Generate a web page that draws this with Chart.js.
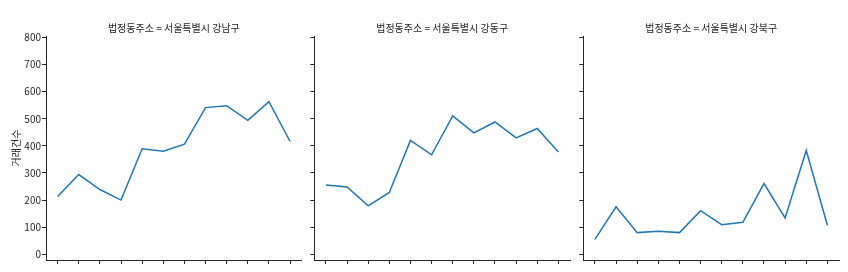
<!DOCTYPE html>
<html>
<head>
<meta charset="utf-8">
<script src="https://cdn.jsdelivr.net/npm/chart.js@4.4.1/dist/chart.umd.min.js"></script>
<style>
  html, body { margin: 0; padding: 0; background: #fff; }
  #wrap { position: relative; width: 848px; height: 272px; }
  #wrap canvas { position: absolute; left: 0; top: 0; }
</style>
</head>
<body>
<div id="wrap">
  <canvas id="c0" width="848" height="272"></canvas>
  <canvas id="c1" width="848" height="272"></canvas>
  <canvas id="c2" width="848" height="272"></canvas>
</div>
<script>
// facet data: monthly transaction counts per district
const months = [1, 2, 3, 4, 5, 6, 7, 8, 9, 10, 11, 12];
const districts = ['서울특별시 강남구', '서울특별시 강동구', '서울특별시 강북구'];
const gangnam = [213, 294, 239, 200, 389, 380, 406, 541, 548, 494, 563, 416];
const gangdong = [256, 248, 179, 228, 420, 367, 510, 448, 488, 429, 464, 377];
const gangbuk = [55, 175, 80, 85, 80, 161, 109, 118, 261, 134, 383, 107];
const yTicks = [0, 100, 200, 300, 400, 500, 600, 700, 800];
const facetKey = '법정동주소';
const yLabel = '거래건수';

const TEXT = '#262626';
const FONT = "'Noto Sans CJK KR', 'Noto Sans', sans-serif";
const W = 848;
// plot area edges of each facet, in page pixels
const areas = [
  { left: 46, right: 301.7 },
  { left: 314.3, right: 570 },
  { left: 583.3, right: 839 },
];

function makeChart(id, values, district, area, first) {
  const tickLen = 4;
  const yWidth = first ? area.left : tickLen;
  return new Chart(document.getElementById(id), {
    type: 'line',
    data: {
      datasets: [{
        data: values.map((v, i) => ({ x: i, y: v })),
        borderColor: '#1f77b4',
        borderWidth: 1.5,
        pointRadius: 0,
        tension: 0,
        fill: false,
      }],
    },
    options: {
      responsive: false,
      animation: false,
      devicePixelRatio: 1,
      events: [],
      layout: {
        padding: { left: area.left - yWidth, right: W - area.right, top: 0, bottom: 0 },
      },
      plugins: {
        legend: { display: false },
        tooltip: { enabled: false },
        title: {
          display: true,
          text: `${facetKey} = ${district}`,
          color: TEXT,
          fullSize: false,
          font: { family: FONT, size: 10, weight: 'normal' },
          padding: { top: 22, bottom: 2 },
        },
      },
      scales: {
        x: {
          type: 'linear',
          min: -0.55,
          max: months.length - 1 + 0.55,
          afterBuildTicks: s => { s.ticks = months.map((m, i) => ({ value: i })); },
          afterFit: s => { s.height = 12; },
          ticks: { display: false },
          grid: { drawOnChartArea: false, drawTicks: true, tickLength: tickLen, color: TEXT, tickWidth: 1 },
          border: { display: true, color: TEXT, width: 1 },
        },
        y: {
          min: -21,
          max: 805,
          afterBuildTicks: s => { s.ticks = yTicks.map(v => ({ value: v })); },
          afterFit: s => { s.width = yWidth; },
          ticks: {
            display: first,
            color: TEXT,
            padding: 1,
            font: { family: FONT, size: 10 },
          },
          title: {
            display: first,
            text: yLabel,
            color: TEXT,
            font: { family: FONT, size: 10 },
            padding: { top: 10, bottom: 0 },
          },
          grid: { drawOnChartArea: false, drawTicks: true, tickLength: tickLen, color: TEXT, tickWidth: 1 },
          border: { display: true, color: TEXT, width: 1 },
        },
      },
    },
  });
}

makeChart('c0', gangnam, districts[0], areas[0], true);
makeChart('c1', gangdong, districts[1], areas[1], false);
makeChart('c2', gangbuk, districts[2], areas[2], false);
</script>
</body>
</html>
